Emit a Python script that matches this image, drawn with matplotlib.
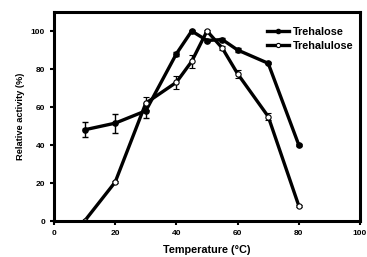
import matplotlib
matplotlib.use("Agg")
import matplotlib.pyplot as plt
from matplotlib.lines import Line2D

# Datos
temps = [10, 20, 30, 40, 45, 50, 55, 60, 70, 80]
trehalose = [48, 51.5, 58, 88, 100, 95, 95.5, 90, 83, 40]
trehalose_err = [4, 5, 4, 1, 0.5, 1, 1, 1, 0.5, 0.5]
trehalulose = [0, 20.5, 62, 73, 84, 100, 91, 77.5, 55, 8]
trehalulose_err = [0.5, 0.5, 3.5, 3.5, 3.5, 0.5, 1, 2, 2, 0.5]

plt.rcParams['font.family'] = ['Liberation Sans', 'DejaVu Sans']
plt.rcParams['font.weight'] = 'bold'

fig = plt.figure(figsize=(3.67, 2.57), dpi=100)
ax = fig.add_axes([54 / 367, 36 / 257, 306 / 367, 209 / 257])

ax.errorbar(temps, trehalose, yerr=trehalose_err, color='black', lw=2.4,
            marker='o', ms=3.8, mfc='black', capsize=2.5, elinewidth=1)
ax.errorbar(temps, trehalulose, yerr=trehalulose_err, color='black', lw=2.4,
            marker='o', ms=3.8, mfc='white', mec='black', mew=0.8,
            capsize=2.5, elinewidth=1)

ax.set_xlim(0, 100)
ax.set_ylim(0, 110)
ax.set_xticks([0, 20, 40, 60, 80, 100])
ax.set_yticks([0, 20, 40, 60, 80, 100])
ax.tick_params(labelsize=6, width=1.5, length=3, direction='out')
for s in ax.spines.values():
    s.set_linewidth(2.2)

ax.set_xlabel('Temperature (°C)', fontsize=7.8, fontweight='bold', labelpad=6)
ax.set_ylabel('Relative activity (%)', fontsize=6.7, fontweight='bold', labelpad=4)

# Leyenda sin barras de error
handles = [
    Line2D([], [], color='black', lw=2.4, marker='o', ms=3, mfc='black'),
    Line2D([], [], color='black', lw=2.4, marker='o', ms=3, mfc='white', mew=0.8),
]
ax.legend(handles, ['Trehalose', 'Trehalulose'], loc='upper left',
          bbox_to_anchor=(0.68, 0.955), frameon=False, fontsize=7.8,
          borderpad=0, handlelength=2.0, labelspacing=0.35, handletextpad=0.3)

fig.savefig('out.png', dpi=100)
